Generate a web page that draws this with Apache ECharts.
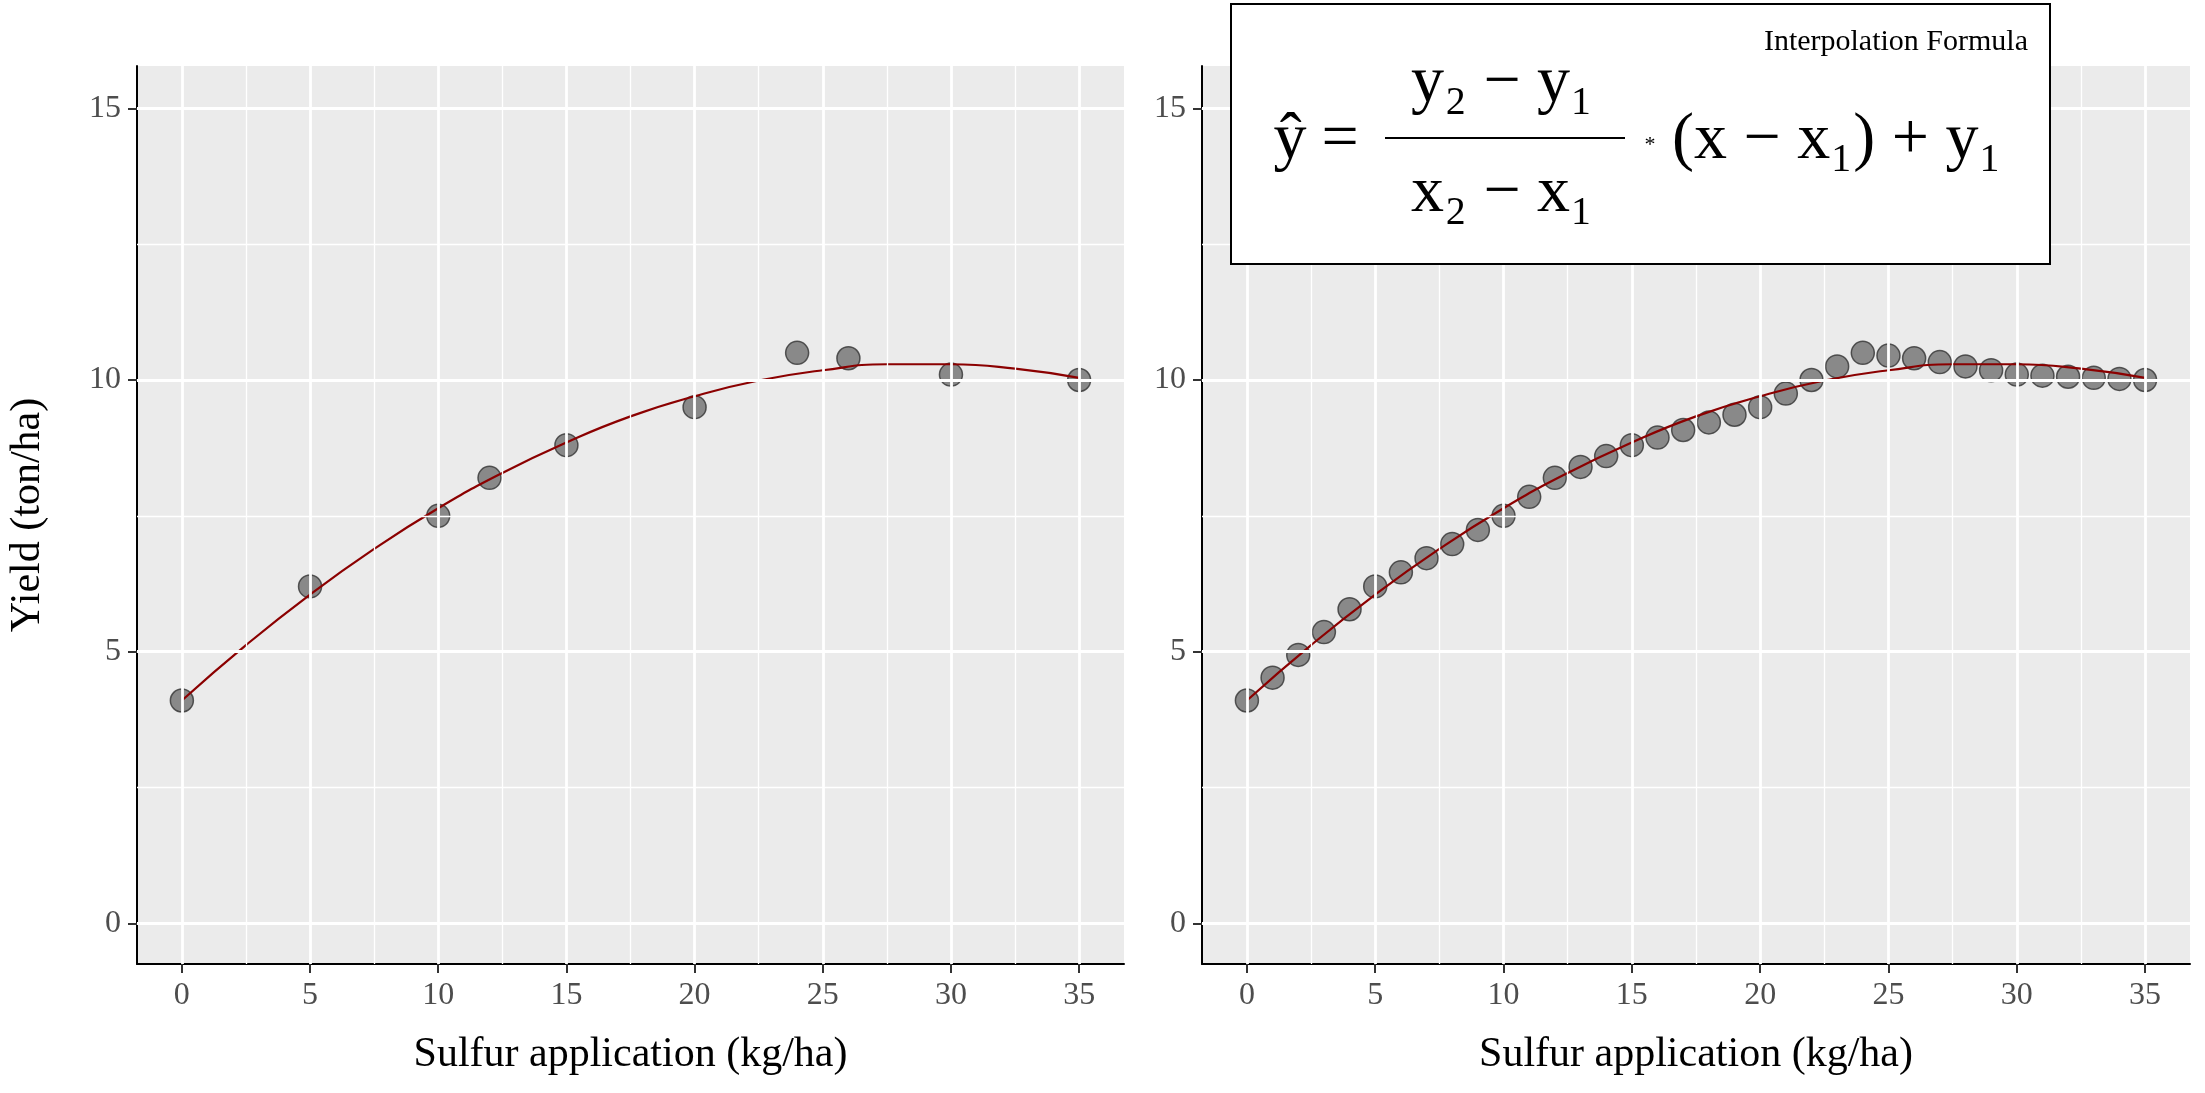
<!DOCTYPE html>
<html><head><meta charset="utf-8">
<script src="https://cdn.jsdelivr.net/npm/echarts@6/dist/echarts.min.js"></script>
<style>html,body{margin:0;background:#fff}#c{width:2205px;height:1093px}</style>
</head><body><div id="c"></div>
<script>
// observed points (left panel)
var obsX = [0, 5, 10, 12, 15, 20, 24, 26, 30, 35];
var obsY = [4.1, 6.2, 7.5, 8.2, 8.8, 9.5, 10.5, 10.4, 10.1, 10.0];
// fitted curve
var fitX = [0, 2.5, 5, 7.5, 10, 12.5, 15, 17.5, 20, 22.5, 25, 27.5, 30, 32.5, 35];
var fitY = [4.1, 5.12, 6.05, 6.89, 7.64, 8.29, 8.85, 9.33, 9.7, 9.99, 10.18, 10.29, 10.29, 10.21, 10.04];
// interpolated points (right panel)
var intX = [];
for (var i = 0; i <= 35; i++) intX.push(i);
var intY = [4.1, 4.52, 4.94, 5.36, 5.78, 6.2, 6.46, 6.72, 6.98, 7.24, 7.5, 7.85, 8.2, 8.4, 8.6, 8.8,
  8.94, 9.08, 9.22, 9.36, 9.5, 9.75, 10.0, 10.25, 10.5, 10.45, 10.4, 10.33, 10.25, 10.18, 10.1,
  10.08, 10.06, 10.04, 10.02, 10.0];
var xTicks = [0, 5, 10, 15, 20, 25, 30, 35];
var xMinor = [2.5, 7.5, 12.5, 17.5, 22.5, 27.5, 32.5];
var yTicks = [0, 5, 10, 15];
var yMinor = [2.5, 7.5, 12.5];

function zip(a, b){ return a.map(function(v, k){ return [v, b[k]]; }); }

var serif = 'Liberation Serif';
function xAx(idx){
  return {type:'value', gridIndex:idx, min:-1.75, max:36.75,
    name:'Sulfur application (kg/ha)', nameLocation:'middle', nameGap:70,
    nameTextStyle:{fontFamily:serif, fontSize:42, color:'#000'},
    axisLine:{onZero:false, lineStyle:{color:'#000', width:2}},
    axisTick:{length:9, lineStyle:{color:'#333', width:2}, customValues:xTicks},
    axisLabel:{fontFamily:serif, fontSize:32, color:'#4d4d4d', margin:16, customValues:xTicks},
    splitLine:{show:false}};
}
function yAx(idx, name){
  return {type:'value', gridIndex:idx, min:-0.75, max:15.78,
    name:name, nameLocation:'middle', nameGap:88,
    nameTextStyle:{fontFamily:serif, fontSize:42, color:'#000'},
    axisLine:{show:true, onZero:false, lineStyle:{color:'#000', width:2}},
    axisTick:{show:true, length:9, lineStyle:{color:'#333', width:2}, customValues:yTicks},
    axisLabel:{fontFamily:serif, fontSize:32, color:'#4d4d4d', margin:16, customValues:yTicks},
    splitLine:{show:false}};
}
function gridLines(idx){
  var d = [];
  xTicks.forEach(function(v){ d.push({xAxis:v, lineStyle:{width:2.8}}); });
  yTicks.forEach(function(v){ d.push({yAxis:v, lineStyle:{width:2.8}}); });
  xMinor.forEach(function(v){ d.push({xAxis:v, lineStyle:{width:1.3}}); });
  yMinor.forEach(function(v){ d.push({yAxis:v, lineStyle:{width:1.3}}); });
  return {type:'scatter', xAxisIndex:idx, yAxisIndex:idx, data:[], z:1, silent:true,
    markLine:{silent:true, symbol:'none', label:{show:false}, animation:false,
      lineStyle:{color:'#fff', type:'solid'}, data:d}};
}
function pts(idx, data){
  return {type:'scatter', xAxisIndex:idx, yAxisIndex:idx, data:data, symbolSize:23, z:3,
    itemStyle:{color:'rgba(77,77,77,0.78)', borderColor:'#333', borderWidth:1.5}};
}
function fit(idx){
  return {type:'line', xAxisIndex:idx, yAxisIndex:idx, data:zip(fitX, fitY), smooth:true,
    showSymbol:false, z:4, lineStyle:{color:'#8b0000', width:2.2}};
}

var chart = echarts.init(document.getElementById('c'));
chart.setOption({
  animation:false,
  backgroundColor:'#fff',
  grid:[
    {left:137, top:66, width:987, height:898, backgroundColor:'#ebebeb', show:true, borderWidth:0},
    {left:1202, top:66, width:988, height:898, backgroundColor:'#ebebeb', show:true, borderWidth:0}
  ],
  xAxis:[xAx(0), xAx(1)],
  yAxis:[yAx(0, 'Yield (ton/ha)'), yAx(1, '')],
  series:[gridLines(0), gridLines(1), fit(0), pts(0, zip(obsX, obsY)), fit(1), pts(1, zip(intX, intY))],
  graphic:[
    {type:'rect', shape:{x:1231, y:4, width:819, height:260}, z:100,
      style:{fill:'#fff', stroke:'#000', lineWidth:2}},
    {type:'text', z:101, x:2028, y:42, style:{text:'Interpolation Formula', font:'30px "Liberation Serif"',
      fill:'#000', align:'right', verticalAlign:'middle'}},
    {type:'text', z:101, x:1290, y:141, style:{text:'ŷ', font:'66px "Liberation Serif"',
      fill:'#000', align:'center', verticalAlign:'middle'}},
    {type:'text', z:101, x:1340, y:141, style:{text:'=', font:'66px "Liberation Serif"',
      fill:'#000', align:'center', verticalAlign:'middle'}},
    {type:'line', z:101, shape:{x1:1385, y1:138, x2:1625, y2:138}, style:{stroke:'#000', lineWidth:2}},
    {type:'text', z:101, x:1502, y:84, style:{text:'y₂ − y₁', font:'66px "Liberation Serif"',
      fill:'#000', align:'center', verticalAlign:'middle'}},
    {type:'text', z:101, x:1502, y:194, style:{text:'x₂ − x₁', font:'66px "Liberation Serif"',
      fill:'#000', align:'center', verticalAlign:'middle'}},
    {type:'text', z:101, x:1650, y:145, style:{text:'*', font:'22px "Liberation Serif"',
      fill:'#000', align:'center', verticalAlign:'middle'}},
    {type:'text', z:101, x:1672, y:141, style:{text:'(x − x₁) + y₁', font:'66px "Liberation Serif"',
      fill:'#000', align:'left', verticalAlign:'middle'}}
  ]
});
</script></body></html>
